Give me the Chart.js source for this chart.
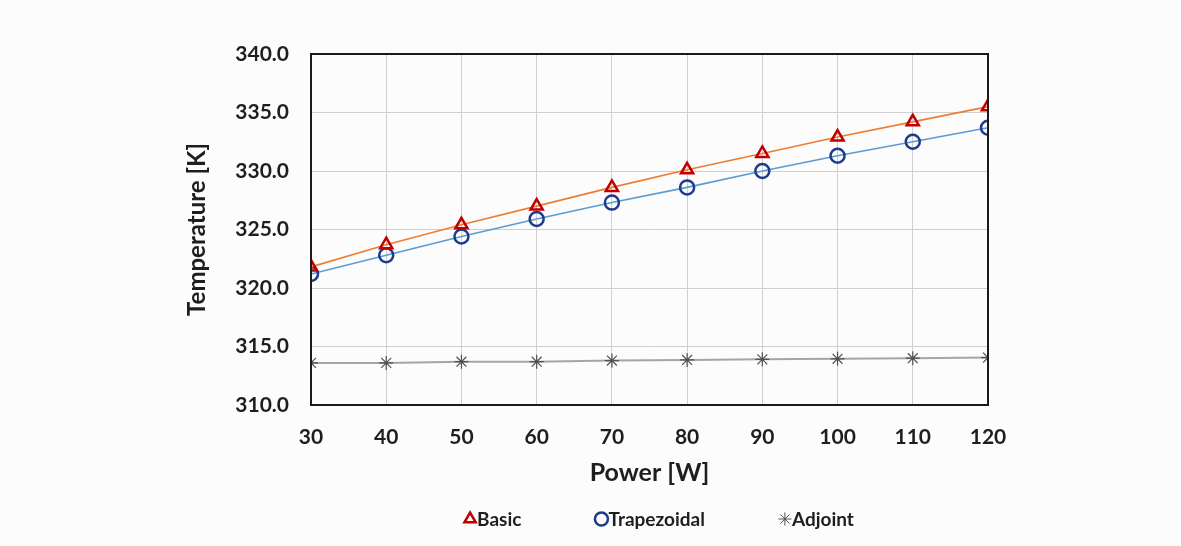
<!DOCTYPE html>
<html>
<head>
<meta charset="utf-8">
<script src="https://cdn.jsdelivr.net/npm/chart.js@4.4.1/dist/chart.umd.min.js"></script>
<style>
  html, body { margin: 0; padding: 0; background: #fcfcfc; }
  #wrap { width: 1181px; height: 546px; }
</style>
</head>
<body>
<div id="wrap"><canvas id="tempChart"></canvas></div>
<script>
// data
const power = [30, 40, 50, 60, 70, 80, 90, 100, 110, 120]
const basicTemp = [321.8, 323.7, 325.4, 327.0, 328.6, 330.1, 331.5, 332.9, 334.2, 335.5]
const trapezoidalTemp = [321.2, 322.8, 324.4, 325.9, 327.3, 328.6, 330.0, 331.3, 332.5, 333.7]
const adjointTemp = [313.6, 313.6, 313.7, 313.7, 313.8, 313.85, 313.9, 313.95, 314.0, 314.05]
const seriesNames = ['Basic', 'Trapezoidal', 'Adjoint']
const yTicks = [310, 315, 320, 325, 330, 335, 340]

const FONT = 'Lato, "Open Sans", sans-serif'

const toXY = (ys) => ys.map((y, i) => ({ x: power[i], y: y }))

// box around the plot area
const frame = {
    id: 'frame',
    afterDatasetsDraw(chart) {
        const a = chart.chartArea
        const ctx = chart.ctx
        ctx.save()
        ctx.strokeStyle = '#1a1a1a'
        ctx.lineWidth = 2
        ctx.strokeRect(a.left, a.top, a.right - a.left, a.bottom - a.top)
        ctx.restore()
    }
}

// legend drawn under the axis title
const bottomLegend = {
    id: 'bottomLegend',
    afterDraw(chart) {
        const ctx = chart.ctx
        const sets = chart.data.datasets
        const y = 519
        const gap = 72
        ctx.save()
        ctx.font = 'bold 19px ' + FONT
        ctx.textBaseline = 'middle'
        let widths = sets.map(ds => 15 + ctx.measureText(ds.label).width)
        let total = widths.reduce((s, w) => s + w, 0) + gap * (sets.length - 1)
        let x = 659 - total / 2
        sets.forEach((ds, i) => {
            ctx.strokeStyle = ds.pointBorderColor
            ctx.fillStyle = 'rgba(0,0,0,0)'
            ctx.lineWidth = ds.pointStyle === 'star' ? 1 : 2.5
            Chart.helpers.drawPoint(ctx, { pointStyle: ds.pointStyle, radius: 6.5, borderWidth: ctx.lineWidth }, x + 7, y)
            ctx.fillStyle = '#1e1e1e'
            ctx.fillText(ds.label, x + 14, y + 1)
            x += widths[i] + gap
        })
        ctx.restore()
    }
}

const config = {
    type: 'line',
    data: {
        datasets: [{
            label: seriesNames[0],
            data: toXY(basicTemp),
            borderColor: '#ED7D31',
            borderWidth: 1.6,
            pointStyle: 'triangle',
            pointRadius: 7,
            pointBorderWidth: 2.5,
            pointBorderColor: '#C00000',
            pointBackgroundColor: 'rgba(0,0,0,0)'
        }, {
            label: seriesNames[1],
            data: toXY(trapezoidalTemp),
            borderColor: '#5B9BD5',
            borderWidth: 1.6,
            pointStyle: 'circle',
            pointRadius: 7,
            pointBorderWidth: 2.5,
            pointBorderColor: '#1F3A8A',
            pointBackgroundColor: 'rgba(0,0,0,0)'
        }, {
            label: seriesNames[2],
            data: toXY(adjointTemp),
            borderColor: '#A5A5A5',
            borderWidth: 2,
            pointStyle: 'star',
            pointRadius: 7,
            pointBorderWidth: 1.2,
            pointBorderColor: '#505050',
            pointBackgroundColor: 'rgba(0,0,0,0)'
        }]
    },
    options: {
        responsive: true,
        maintainAspectRatio: false,
        animation: false,
        layout: { padding: { left: 183, right: 193, top: 54, bottom: 56 } },
        plugins: {
            legend: { display: false },
            tooltip: { enabled: false }
        },
        scales: {
            x: {
                type: 'linear',
                min: 30,
                max: 120,
                afterBuildTicks: (scale) => { scale.ticks = power.map(v => ({ value: v })) },
                afterFit: (scale) => { scale.height = 546 - 56 - 405 },
                grid: { color: '#cfcfcf', lineWidth: 1, drawTicks: false },
                border: { display: false },
                ticks: { padding: 20, color: '#1e1e1e', font: { family: FONT, size: 21, weight: 'bold' } },
                title: {
                    display: true,
                    text: 'Power [W]',
                    color: '#1e1e1e',
                    padding: { top: 0, bottom: 2 },
                    font: { family: FONT, size: 25, weight: 'bold' }
                }
            },
            y: {
                min: 310,
                max: 340,
                afterBuildTicks: (scale) => { scale.ticks = yTicks.map(v => ({ value: v })) },
                afterFit: (scale) => { scale.width = 311 - 183 },
                grid: { color: '#cfcfcf', lineWidth: 1, drawTicks: false },
                border: { display: false },
                ticks: {
                    padding: 22,
                    color: '#1e1e1e',
                    font: { family: FONT, size: 21, weight: 'bold' },
                    callback: (v) => Number(v).toFixed(1)
                },
                title: {
                    display: true,
                    text: 'Temperature [K]',
                    color: '#1e1e1e',
                    padding: { top: 0, bottom: 2 },
                    font: { family: FONT, size: 24, weight: 'bold' }
                }
            }
        }
    },
    plugins: [frame, bottomLegend]
}

const ctx = document.querySelector('#tempChart').getContext('2d')
const myChart = new Chart(ctx, config)
</script>
</body>
</html>
